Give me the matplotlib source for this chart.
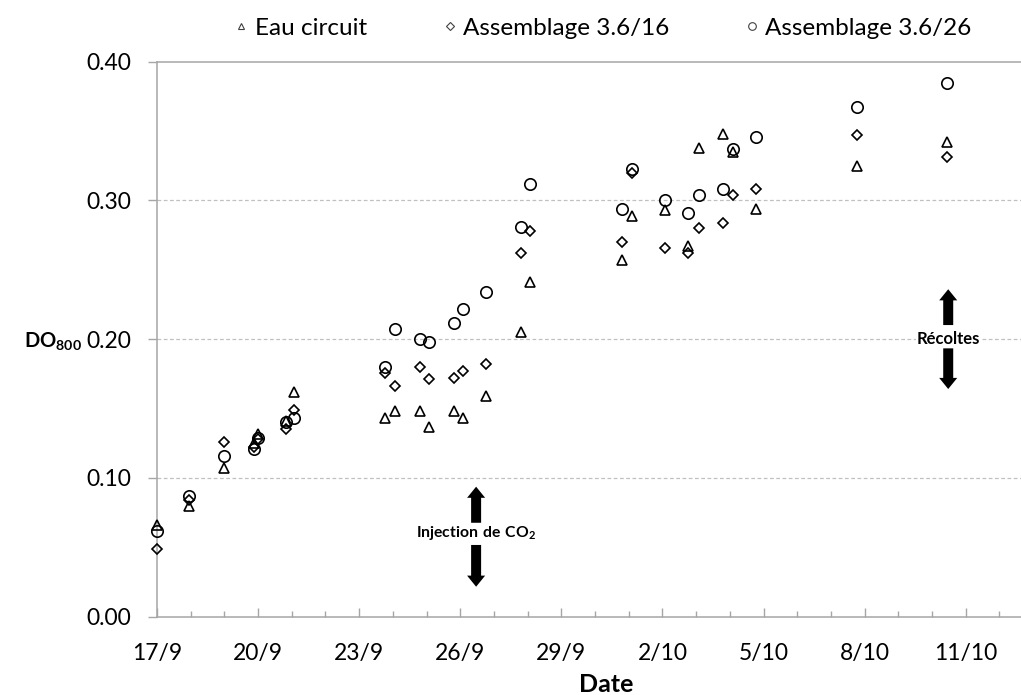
import matplotlib
matplotlib.use("Agg")
import matplotlib.pyplot as plt
from matplotlib.lines import Line2D
from matplotlib.ticker import MultipleLocator, FixedLocator, FixedFormatter

plt.rcParams['font.family'] = ['Lato', 'DejaVu Sans']
plt.rcParams['mathtext.fontset'] = 'custom'
plt.rcParams['mathtext.rm'] = 'Lato'
plt.rcParams['mathtext.bf'] = 'Lato:bold'

# ---- data (days after 17/9) ----
days = [0, 0.95, 2.0, 2.89, 3.0, 3.82, 4.07, 6.77, 7.07, 7.80, 8.07, 8.81, 9.08,
        9.77, 10.79, 11.07, 13.79, 14.09, 15.07, 15.77, 16.07, 16.79, 17.08,
        17.77, 20.78, 23.43]
eau_circuit = [0.066, 0.080, 0.107, 0.125, 0.132, 0.141, 0.162, 0.143, 0.148,
               0.148, 0.137, 0.148, 0.143, 0.159, 0.205, 0.241, 0.257, 0.289,
               0.293, 0.267, 0.338, 0.348, 0.335, 0.294, 0.325, 0.342]
assemblage_16 = [0.049, 0.084, 0.126, 0.122, 0.128, 0.135, 0.149, 0.176, 0.166,
                 0.180, 0.171, 0.172, 0.177, 0.182, 0.262, 0.278, 0.270, 0.320,
                 0.266, 0.262, 0.280, 0.284, 0.304, 0.308, 0.347, 0.331]
assemblage_26 = [0.062, 0.087, 0.116, 0.121, 0.129, 0.140, 0.143, 0.180, 0.207,
                 0.200, 0.198, 0.212, 0.222, 0.234, 0.281, 0.312, 0.294, 0.323,
                 0.300, 0.291, 0.304, 0.308, 0.337, 0.346, 0.367, 0.385]
tick_days = [0, 3, 6, 9, 12, 15, 18, 21, 24]
tick_labels = ["17/9", "20/9", "23/9", "26/9", "29/9", "2/10", "5/10", "8/10", "11/10"]
y_ticks = [0.0, 0.1, 0.2, 0.3, 0.4]

fig = plt.figure(figsize=(10.21, 6.95), dpi=100)
ax = fig.add_axes([157/1021, (695-616.7)/695, (1021-157)/1021, (616.7-61.7)/695])

grey = '#a6a6a6'
ax.set_xlim(0, 25.64)
ax.set_ylim(0, 0.40)

for y in y_ticks[1:-1]:
    ax.axhline(y, color='#c0c0c0', lw=0.9, ls=(0, (3, 2)), zorder=0)

mk = dict(ls='none', mfc='none', mec='black', mew=1.2, clip_on=False, zorder=3)
ax.plot(days, eau_circuit, marker='^', ms=7.5, **mk)
ax.plot(days, assemblage_16, marker='D', ms=5.2, **mk)
ax.plot(days, assemblage_26, marker='o', ms=8.2, **mk)

# spines
for s in ['left', 'bottom', 'top']:
    ax.spines[s].set_color(grey)
    ax.spines[s].set_linewidth(1.1)
ax.spines['right'].set_visible(False)

ax.xaxis.set_major_locator(FixedLocator(tick_days))
ax.xaxis.set_major_formatter(FixedFormatter(tick_labels))
ax.xaxis.set_minor_locator(MultipleLocator(1))
ax.tick_params(axis='x', which='major', direction='in', length=6.5, width=1, color=grey,
               pad=19, labelsize=16.5)
ax.tick_params(axis='x', which='minor', direction='in', length=4, width=1, color=grey)
ax.set_yticks(y_ticks)
ax.set_yticklabels([f"{v:.2f}" for v in y_ticks])
ax.tick_params(axis='y', direction='out', length=6.3, width=1, color=grey, pad=12,
               labelsize=16.5)

# axis labels
fig.text(606/1021, 1-685/695, 'Date', ha='center', va='center', fontsize=18,
         fontweight='bold')
fig.text(53/1021, 1-342/695, r'$\mathbf{DO_{800}}$', ha='center', va='center',
         fontsize=14.5)

# annotations
def block_arrow(x, y0, y1):
    ax.annotate('', xy=(x, y1), xytext=(x, y0),
                arrowprops=dict(arrowstyle='simple,head_width=1.3,head_length=0.8,tail_width=0.72',
                                fc='black', ec='black', lw=0, shrinkA=0, shrinkB=0,
                                mutation_scale=10))

x_inj = 9.47
block_arrow(x_inj, 0.0677, 0.0937)
block_arrow(x_inj, 0.0517, 0.0216)
ax.text(x_inj, 0.0601, r'$\mathbf{Injection\ de\ CO_2}$', ha='center', va='center',
        fontsize=11.3)
x_rec = 23.48
block_arrow(x_rec, 0.2102, 0.236)
block_arrow(x_rec, 0.1934, 0.1641)
ax.text(x_rec, 0.2001, 'Récoltes', ha='center', va='center', fontsize=12,
        fontweight='bold', bbox=dict(fc='white', ec='none', pad=0.5))

# legend
handles = [
    Line2D([], [], ls='none', marker='^', ms=5, mfc='none', mec='#404040', mew=0.8),
    Line2D([], [], ls='none', marker='D', ms=3.8, mfc='none', mec='#404040', mew=0.8),
    Line2D([], [], ls='none', marker='o', ms=5.5, mfc='none', mec='#404040', mew=0.8),
]
fig.legend(handles, ['Eau circuit', 'Assemblage 3.6/16', 'Assemblage 3.6/26'],
           loc='center', bbox_to_anchor=(604/1021, 1-28/695), ncol=3, frameon=False,
           fontsize=17.5, handlelength=0.4, handletextpad=0.35, columnspacing=3.2)

fig.savefig('out.png', dpi=100)
